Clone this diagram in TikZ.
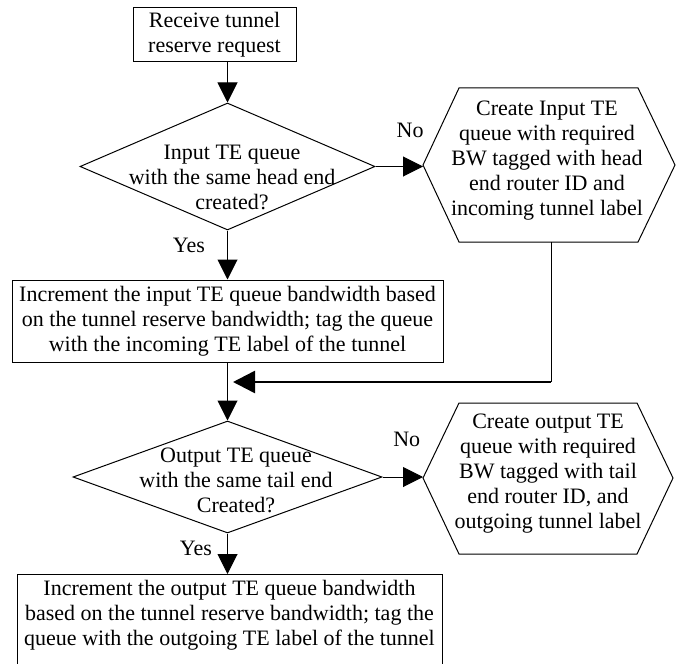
\documentclass[tikz,border=0pt]{standalone}
\usepackage{fontspec}
\setmainfont{Liberation Serif}
\usetikzlibrary{calc}
\usetikzlibrary{shapes.geometric}
\usetikzlibrary{arrows.meta}

\begin{document}
\begin{tikzpicture}[x=1pt, y=-1pt]
    \tikzstyle{process} = [draw, line width=1pt, align=center, inner xsep=3pt, inner ysep=3pt, font=\fontsize{22}{25}\selectfont]
    \tikzstyle{decision} = [draw, shape=diamond, inner sep=0pt, line width=1pt]
    \tikzstyle{words} = [align=center, inner sep=0pt, font=\fontsize{22}{25}\selectfont]
    \tikzstyle{tag} = [inner sep=0pt, font=\fontsize{22}{25}\selectfont]
    \tikzstyle{flow} = [line width=1pt, -{Triangle[length=20pt, width=20pt]}]
    \useasboundingbox (0, 0) rectangle (676, 663);

    \node[process, minimum width=163pt, minimum height=54pt] (request) at (214.5, 35) {Receive tunnel\\reserve request};

    % head end check
    \node[decision, minimum width=295pt, minimum height=127pt] (headq) at (227.5, 166.5) {};
    \node[words] (headqtext) at (232, 177) {Input TE queue\\with the same head end\\created?};

    \draw[line width=1pt] (459, 88) -- (638, 88) -- (675, 165) -- (638, 242) -- (459, 242) -- (423, 165) -- cycle;
    \node[words] (inhex) at (547, 161) {Create Input TE\\queue with required\\BW tagged with head\\end router ID and\\incoming tunnel label};
    \coordinate (inhexw) at (423, 166.5);
    \coordinate (inhexs) at (551, 242);

    \node[process, minimum width=431pt, minimum height=82pt] (inbox) at (227.5, 321) {Increment the input TE queue bandwidth based\\on the tunnel reserve bandwidth; tag the queue\\with the incoming TE label of the tunnel};

    % tail end check
    \node[decision, minimum width=309pt, minimum height=112pt] (tailq) at (227.5, 477) {};
    \node[words] (tailqtext) at (236, 480) {Output TE queue\\with the same tail end\\Created?};

    \draw[line width=1pt] (459, 403) -- (637, 403) -- (673, 478) -- (637, 554) -- (459, 554) -- (423, 478) -- cycle;
    \node[words] (outhex) at (548, 474) {Create output TE\\queue with required\\BW tagged with tail\\end router ID, and\\outgoing tunnel label};
    \coordinate (outhexw) at (423, 477);

    \node[process, anchor=north, minimum width=425pt, inner ysep=6pt, text depth=40pt] (outbox) at (229.5, 574) {Increment the output TE queue bandwidth\\based on the tunnel reserve bandwidth; tag the\\queue with the outgoing TE label of the tunnel};

    \coordinate (joint) at (551, 382);
    \coordinate (merge) at (233, 382);

    \draw[flow] (request.south -| headq.north) -- (headq.north);
    \draw[flow] (headq.east) -- node[tag, pos=0.73, above=28pt] (no1) {No} (inhexw);
    \draw[flow] (headq.south) -- node[tag, pos=0.3, left=22pt] (yes1) {Yes} (inbox.north -| headq.south);
    \draw[flow] (inbox.south) -- (tailq.north);
    \draw[line width=1pt] (inhexs) -- (joint);
    \draw[line width=2.5pt, -{Triangle[length=22pt, width=22pt]}] (joint) -- (merge);
    \draw[flow] (tailq.east) -- node[tag, pos=0.6, above=30pt] (no2) {No} (outhexw);
    \draw[flow] (tailq.south) -- node[tag, pos=0.37, left=15pt] (yes2) {Yes} (outbox.north -| tailq.south);
\end{tikzpicture}
\end{document}
